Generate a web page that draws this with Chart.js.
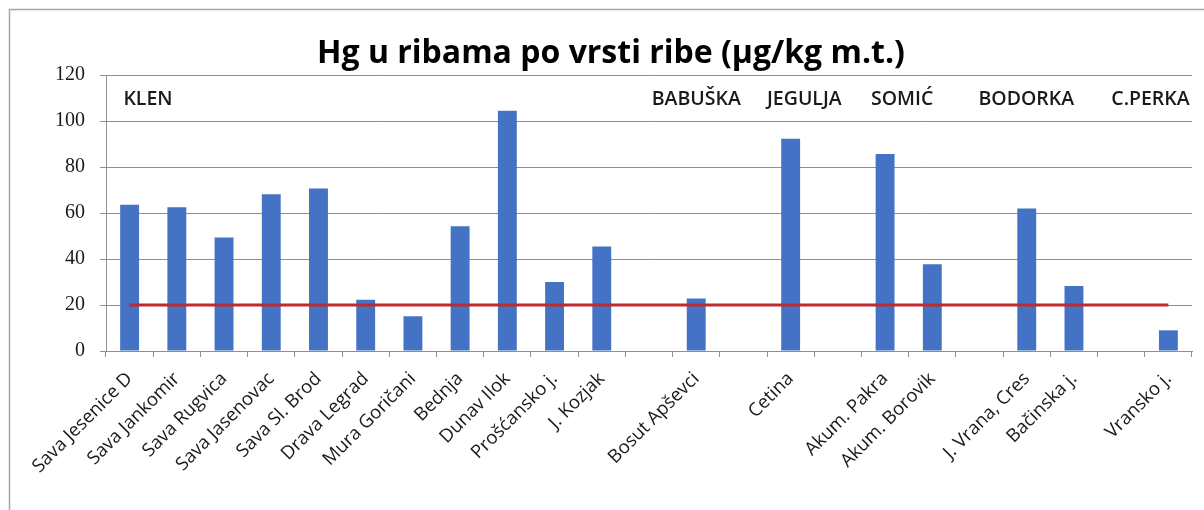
<!DOCTYPE html>
<html><head><meta charset="utf-8">
<script src="https://cdn.jsdelivr.net/npm/chart.js@4/dist/chart.umd.min.js"></script>
<style>html,body{margin:0;padding:0;background:#fff;overflow:hidden}#wrap{width:1204px;height:510px}</style>
</head><body><div id="wrap"><canvas id="c" width="1204" height="510"></canvas></div>
<script>
const categories = ["Sava Jesenice D","Sava Jankomir","Sava Rugvica","Sava Jasenovac","Sava Sl. Brod","Drava Legrad","Mura Goričani","Bednja","Dunav Ilok","Prošćansko j.","J. Kozjak","","Bosut Apševci","","Cetina","","Akum. Pakra","Akum. Borovik","","J. Vrana, Cres","Bačinska j.","","Vransko j."];
const hgValues = [63.6,62.5,49.3,68.1,70.7,22.3,15.1,54.2,104.5,30.0,45.4,null,22.8,null,92.3,null,85.7,37.7,null,62.0,28.3,null,9.0];
const limitValues = [20,20,20,20,20,20,20,20,20,20,20,20,20,20,20,20,20,20,20,20,20,20,20];
const yTicks = [0,20,40,60,80,100,120];
const fishGroups = ["KLEN","BABUŠKA","JEGULJA","SOMIĆ","BODORKA","C.PERKA"];
const fishGroupAt = [0.39,12.0,14.29,16.36,18.99,21.62];
const titleText = "Hg u ribama po vrsti ribe (µg/kg m.t.)";

const decor = {
  id: 'decor',
  beforeDraw(chart) {
    const ctx = chart.ctx;
    ctx.save();
    ctx.fillStyle = '#fff';
    ctx.fillRect(0, 0, chart.width, chart.height);
    ctx.strokeStyle = '#a6a6a6';
    ctx.lineWidth = 1.5;
    ctx.beginPath();
    ctx.moveTo(9.5, 510); ctx.lineTo(9.5, 9.5); ctx.lineTo(1204, 9.5);
    ctx.stroke();
    ctx.restore();
  },
  afterDatasetsDraw(chart) {
    const {ctx, scales: {x, y}} = chart;
    ctx.save();
    ctx.font = '600 19.5px "Open Sans"';
    ctx.fillStyle = '#1a1a1a';
    ctx.textAlign = 'center';
    ctx.textBaseline = 'middle';
    fishGroups.forEach((t, i) => ctx.fillText(t, x.getPixelForValue(fishGroupAt[i]), y.getPixelForValue(109.5)));
    ctx.restore();
  }
};

new Chart(document.getElementById('c'), {
  type: 'bar',
  data: {
    labels: categories,
    datasets: [
      { type: 'line', label: 'limit', data: limitValues, borderColor: '#BE2A2E', borderWidth: 3, pointRadius: 0, fill: false, order: 0 },
      { type: 'bar', label: 'Hg', data: hgValues, backgroundColor: '#4472C4', categoryPercentage: 1, barPercentage: 0.4, order: 1 }
    ]
  },
  options: {
    responsive: false,
    animation: false,
    devicePixelRatio: 1,
    layout: { padding: { left: 30, right: 12, top: 0, bottom: 0 } },
    plugins: {
      legend: { display: false },
      tooltip: { enabled: false },
      title: {
        display: true, text: titleText, color: '#000',
        font: { family: '"Open Sans"', size: 32, weight: 'bold', lineHeight: 1.2 },
        padding: { top: 35, bottom: 1.6 }
      }
    },
    scales: {
      x: {
        grid: { offset: true, drawOnChartArea: false, drawTicks: true, tickLength: 6, tickColor: '#8f8f8f', color: '#8f8f8f' },
        border: { display: true, color: '#8f8f8f', width: 1 },
        ticks: { autoSkip: false, maxRotation: 45, minRotation: 45, padding: 11, labelOffset: 0, color: '#1a1a1a', font: { family: '"Open Sans"', size: 18.5 } },
        afterFit(s) { s.height = 159; }
      },
      y: {
        min: 0, max: 120,
        afterBuildTicks(s) { s.ticks = yTicks.map(v => ({ value: v })); },
        grid: { color: '#8f8f8f', tickLength: 6, tickColor: '#8f8f8f', lineWidth: 1 },
        border: { display: true, color: '#8f8f8f', width: 1 },
        ticks: { padding: 15, color: '#1a1a1a', font: { family: '"Liberation Serif"', size: 20 } },
        afterFit(s) { s.width = 76; }
      }
    }
  },
  plugins: [decor]
});
</script>
</body></html>
